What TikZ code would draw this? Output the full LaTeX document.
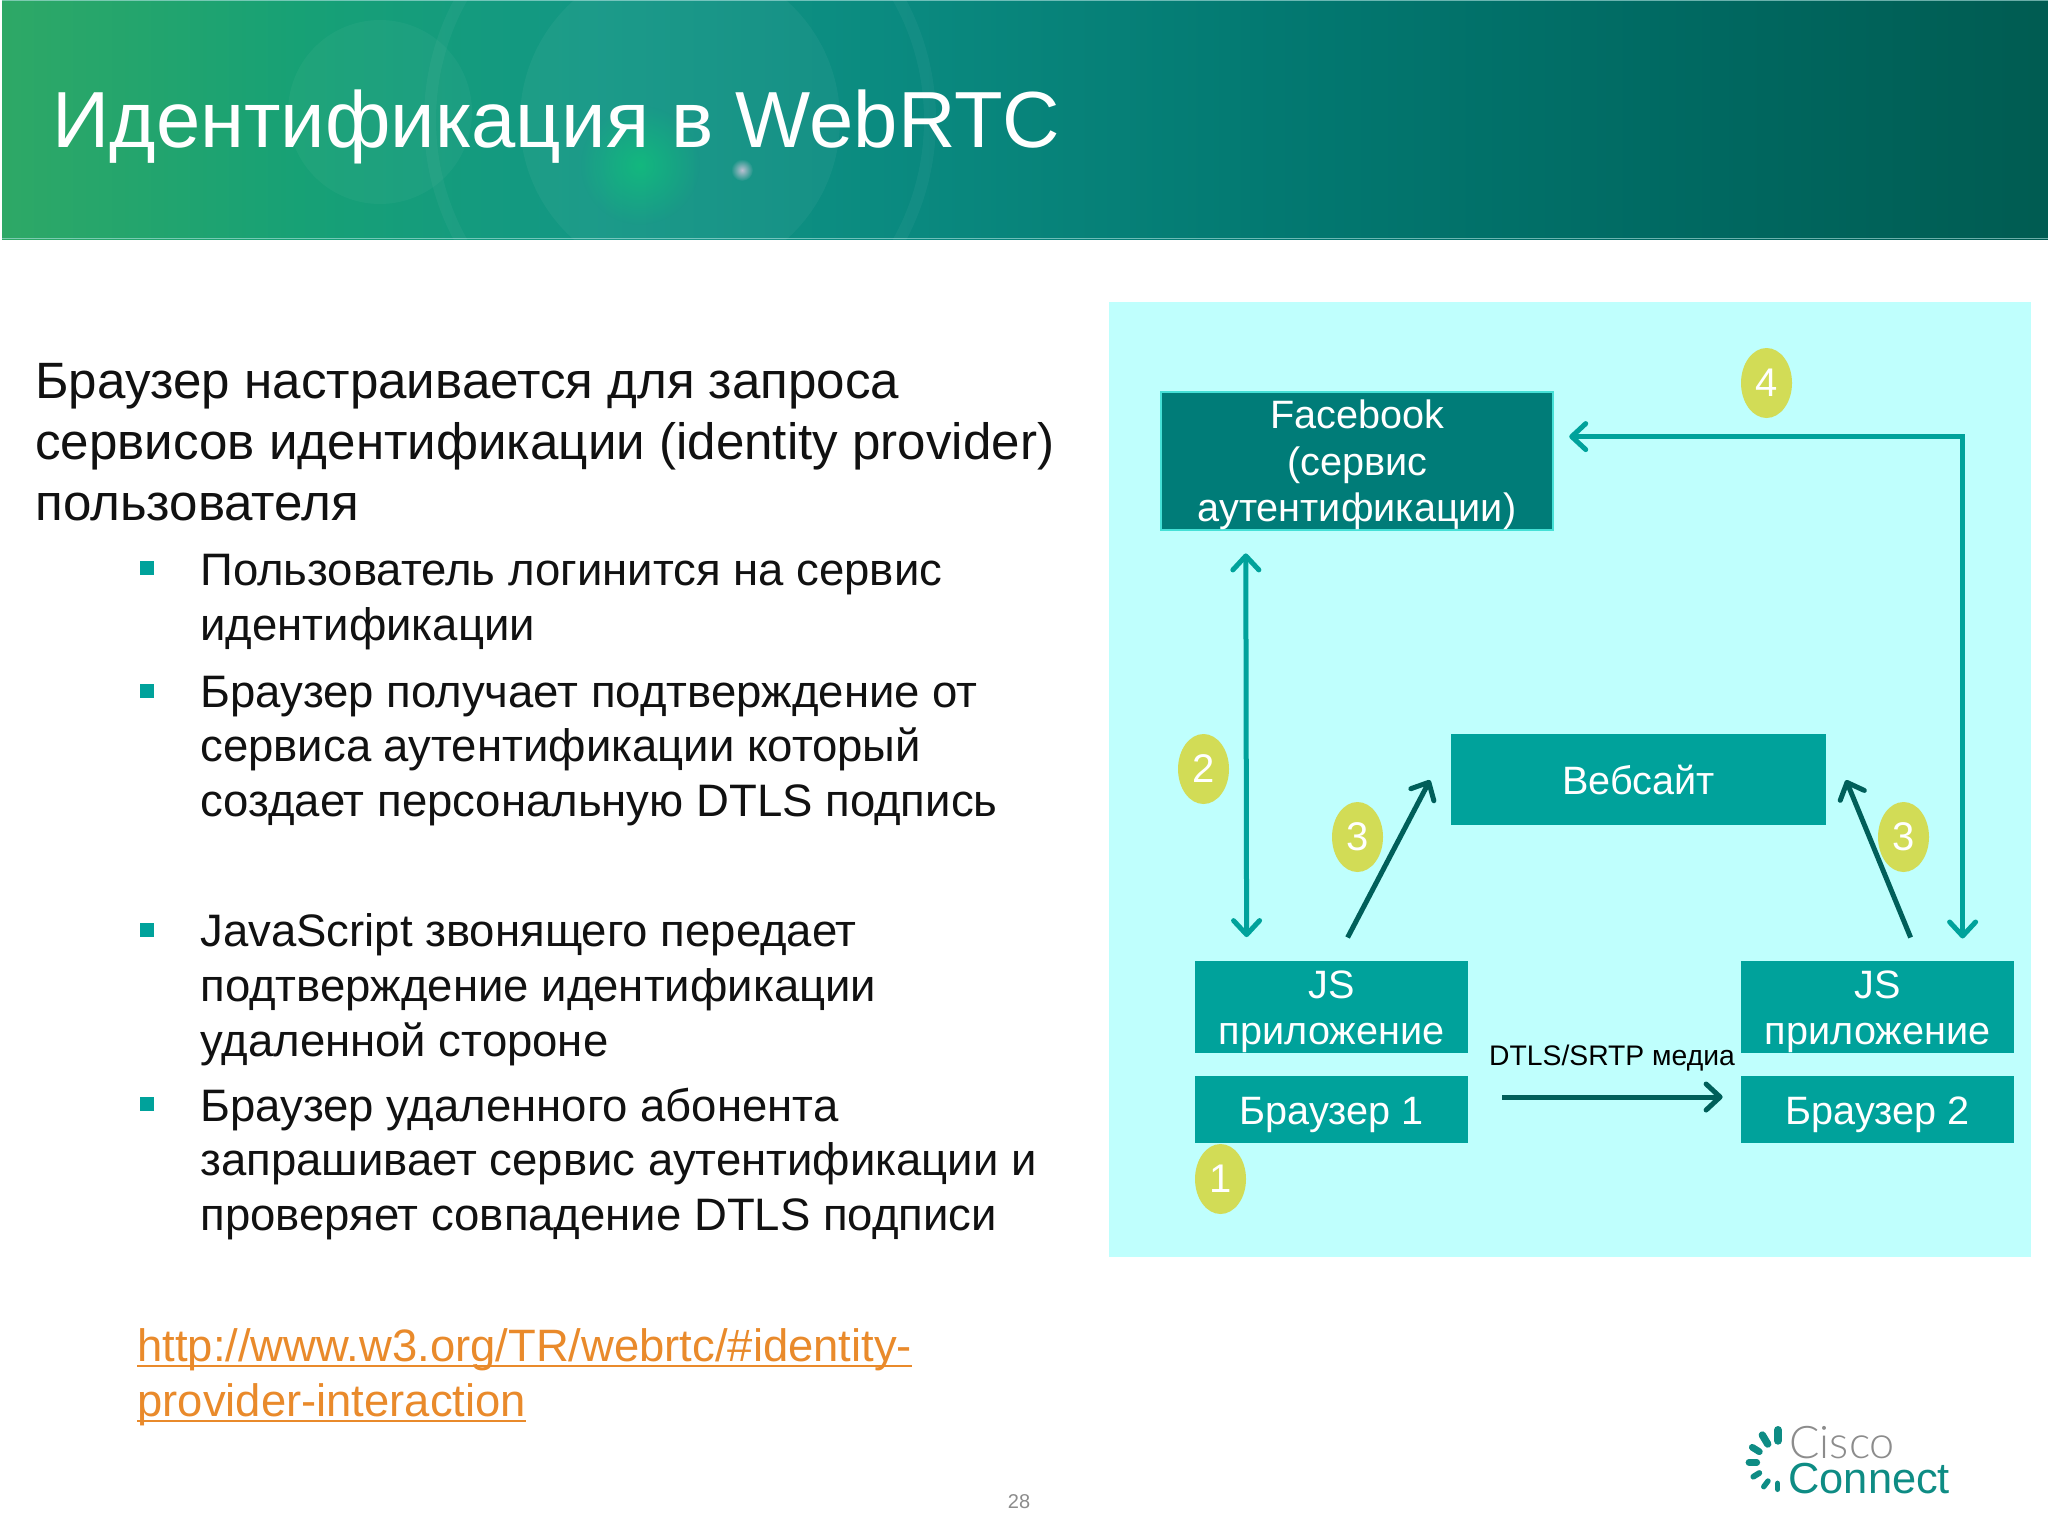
\documentclass[tikz,border=0pt]{standalone}
\usepackage{fontspec}
\setmainfont{Liberation Sans}
\newfontfamily\lightfont{Lato Light}
\usetikzlibrary{arrows.meta,shapes.geometric,fadings}
\definecolor{panelc}{HTML}{BFFFFD}
\definecolor{boxc}{HTML}{00A29B}
\definecolor{fbc}{HTML}{007C78}
\definecolor{fbb}{HTML}{45E0D6}
\definecolor{numc}{HTML}{D2DC56}
\definecolor{darkar}{HTML}{005F5A}
\definecolor{linkc}{HTML}{E98A2B}
\definecolor{logoc}{HTML}{0E8C84}
\definecolor{bodyc}{HTML}{111111}
\pgfdeclarehorizontalshading{bannershade}{100bp}{
 rgb(0bp)=(0.18,0.66,0.40);
 rgb(25bp)=(0.18,0.66,0.40);
 rgb(32.3bp)=(0.09,0.63,0.46);
 rgb(39.6bp)=(0.07,0.59,0.52);
 rgb(47bp)=(0.04,0.54,0.50);
 rgb(56.7bp)=(0.01,0.47,0.44);
 rgb(66.5bp)=(0.00,0.41,0.38);
 rgb(75bp)=(0.00,0.36,0.32);
 rgb(100bp)=(0.00,0.36,0.32)}
\tikzfading[name=softglow,inner color=transparent!0,outer color=transparent!100]
\newcommand{\fsz}[2]{\fontsize{#1pt}{#2pt}\selectfont}
\newcommand{\txtdrop}[1]{\rule{0pt}{#1pt}}
\newcommand{\lnkul}[1]{\setbox0\hbox{#1}\rlap{\rule[-2.6pt]{\wd0}{1.1pt}}\box0}
\tikzset{
 dbox/.style={rectangle,fill=boxc,text=white,inner sep=0pt,align=center,font=\fsz{19.8}{23}},
 numdot/.style={ellipse,fill=numc,text=white,inner sep=0pt,minimum width=25.5pt,minimum height=35pt,font=\fsz{20}{24}},
 tipb/.tip={Straight Barb[length=7pt,width=13pt,line width=2.5pt,round]},
 arr/.style={line width=2.5pt,draw=boxc,-tipb},
 darr/.style={arr,draw=darkar},
 body/.style={anchor=west,inner sep=0pt,align=left,text=bodyc},
 bmain/.style={body,font=\fsz{25.55}{30.4}},
 bsub/.style={body,font=\fsz{22.75}{27.4}},
 blt/.style={rectangle,fill=boxc,inner sep=0pt,minimum size=7pt},
 spin/.style={draw=logoc,line cap=round},
}
\begin{document}
\begin{tikzpicture}[x=0.5pt,y=-0.5pt]
\useasboundingbox (0,0) rectangle (2048,1536);
\fill[white] (0,0) rectangle (2048,1536);
% banner
\begin{scope}
\clip (2,0) rectangle (2048,239);
\shade[shading=bannershade] (2,0) rectangle (2048,239);
\fill[white,opacity=0.035] (380,112) circle (92);
\fill[white,opacity=0.045] (680,120) circle (160);
\draw[white,opacity=0.04,line width=6pt] (680,120) circle (250);
\fill[green!60!cyan,path fading=softglow,opacity=0.3] (640,165) circle (60);
\fill[white!80!violet,path fading=softglow,opacity=0.8] (742,170) circle (11);
\fill[boxc!30,opacity=0.6] (2,0) rectangle (2048,1.5);
\fill[boxc!30,opacity=0.6] (2,238) rectangle (2048,239);
\end{scope}
\node[anchor=base west,inner sep=0pt,text=white,font=\fsz{39.8}{48}] (title) at (52,148) {Идентификация в WebRTC};
% left text
\node[bmain] (t0) at (35,442) {Браузер настраивается для запроса\\сервисов идентификации (identity provider)\\пользователя};
\node[blt] (b1) at (147,568) {};
\node[blt] (b2) at (147,691) {};
\node[blt] (b3) at (147,930) {};
\node[blt] (b4) at (147,1104) {};
\node[bsub] (t1) at (200,602) {Пользователь логинится на сервис\\идентификации};
\node[bsub] (t2) at (200,751) {Браузер получает подтверждение от\\сервиса аутентификации который\\создает персональную DTLS подпись};
\node[bsub] (t3) at (200,990) {JavaScript звонящего передает\\подтверждение идентификации\\удаленной стороне};
\node[bsub] (t4) at (200,1164) {Браузер удаленного абонента\\запрашивает сервис аутентификации и\\проверяет совпадение DTLS подписи};
\node[bsub,font=\fsz{22.7}{27.4},text=linkc] (lnk) at (137,1377.5) {\lnkul{http://www.w3.org/TR/webrtc/\#identity-}\\\lnkul{provider-interaction}};
\node[inner sep=0pt,text=black!45,font=\fsz{10}{12}] (pg) at (1019,1502) {28};
% panel
\fill[panelc] (1109,302) rectangle (2031,1257);
\node[dbox,fill=fbc,draw=fbb,line width=1.2pt,minimum width=196pt,minimum height=68pt,font=\fsz{19.8}{23.3}] (fb) at (1357,461) {\txtdrop{18.5}Facebook\\(сервис\\аутентификации)};
\node[dbox,minimum width=187.5pt,minimum height=45.5pt] (web) at (1638.5,779.5) {\txtdrop{15.5}Вебсайт};
\node[dbox,minimum width=136.5pt,minimum height=46pt] (js1) at (1331.5,1007) {\txtdrop{19}JS\\приложение};
\node[dbox,minimum width=136.5pt,minimum height=33.5pt] (br1) at (1331.5,1109.5) {\txtdrop{19}Браузер 1};
\node[dbox,minimum width=136.5pt,minimum height=46pt] (js2) at (1877.5,1007) {\txtdrop{19}JS\\приложение};
\node[dbox,minimum width=136.5pt,minimum height=33.5pt] (br2) at (1877.5,1109.5) {\txtdrop{19}Браузер 2};
\node[inner sep=0pt,text=black,font=\fsz{14.15}{17}] (dt) at (1612,1058) {DTLS/SRTP медиа};
\node[numdot] (n4) at (1766.5,383) {4};
\node[numdot] (n2) at (1203.5,769) {2};
\node[numdot] (n3a) at (1357.5,837) {3};
\node[numdot] (n3b) at (1903.5,837) {3};
\node[numdot] (n1) at (1220.5,1179) {1};
% connectors
\draw[arr,tipb-tipb]
  ([xshift=43pt,yshift=-11pt]fb.south west) -- ([xshift=26pt,yshift=11.7pt]js1.north west);
\draw[arr,tipb-tipb]
  ([xshift=111pt,yshift=11pt]js2.north west) |- ([xshift=7.5pt,yshift=-23pt]fb.north east);
\draw[darr] ([xshift=76.5pt,yshift=11.5pt]js1.north west) -- ([xshift=-10.3pt,yshift=-0.3pt]web.west);
\draw[darr] ([xshift=85pt,yshift=11.5pt]js2.north west) -- ([xshift=9.8pt,yshift=-0.3pt]web.east);
\draw[darr] ([xshift=17pt,yshift=6.25pt]br1.east) -- ([xshift=-9pt,yshift=6.25pt]br2.west);
% logo
\draw[spin,line width=4pt] (1778,1430) -- (1778,1440.7);
\draw[spin,line width=3.7pt] (1762.3,1435) -- (1767.7,1444);
\draw[spin,line width=3.4pt] (1752.3,1447.3) -- (1759.3,1451.7);
\draw[spin,line width=3.4pt] (1749,1462.3) -- (1756.7,1462.3);
\draw[spin,line width=2.9pt] (1753.3,1476.7) -- (1759.3,1473);
\draw[spin,line width=2.7pt] (1763.7,1486.7) -- (1768,1481);
\draw[spin,line width=2.7pt] (1777.7,1483.3) -- (1777.7,1489.3);
\node[anchor=base west,inner sep=0pt,text=black!45,font=\lightfont\fsz{22.5}{26}] (cisco) at (1789,1458) {Cisco};
\node[anchor=base west,inner sep=0pt,text=logoc,font=\fsz{21.7}{25}] (conn) at (1788,1493) {Connect};
\end{tikzpicture}
\end{document}
